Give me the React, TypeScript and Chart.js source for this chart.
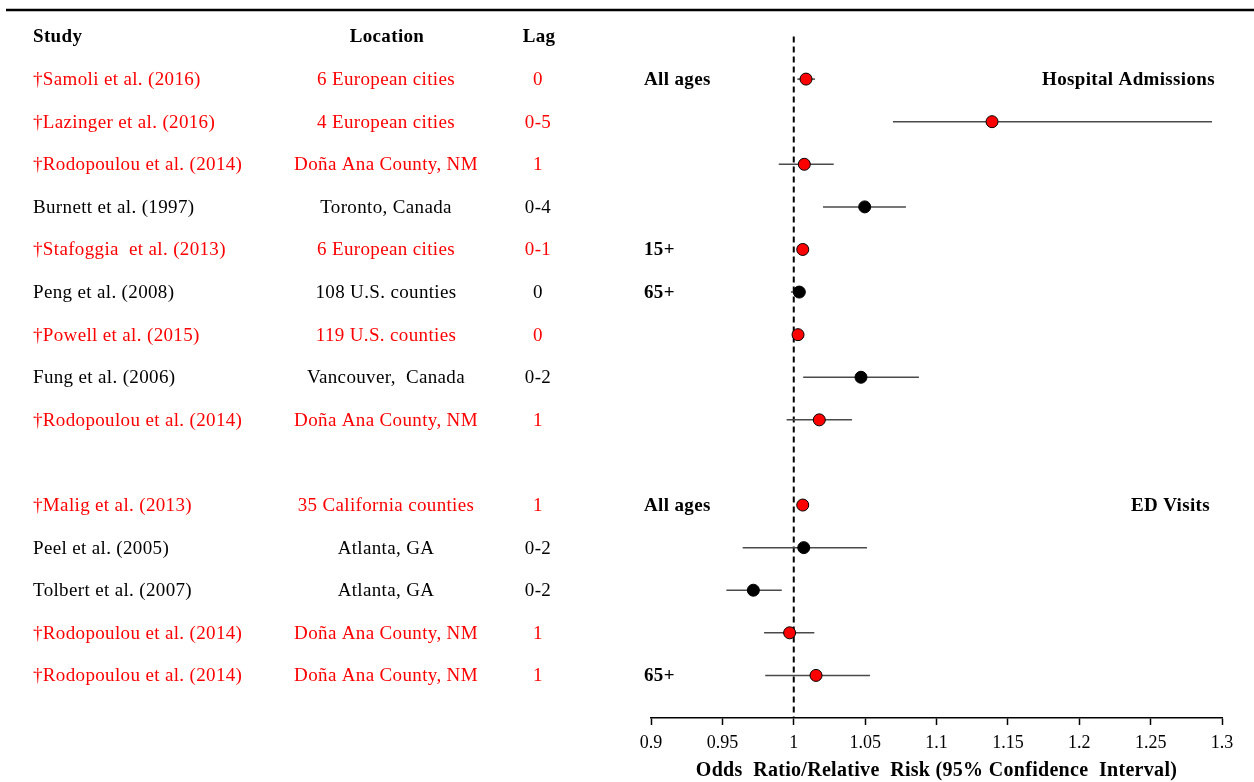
import React, { useEffect, useRef } from "react";
import { Chart, registerables } from "chart.js";

Chart.register(...registerables);

// ---- Data ----
const studies = [
  "†Samoli et al. (2016)",
  "†Lazinger et al. (2016)",
  "†Rodopoulou et al. (2014)",
  "Burnett et al. (1997)",
  "†Stafoggia  et al. (2013)",
  "Peng et al. (2008)",
  "†Powell et al. (2015)",
  "Fung et al. (2006)",
  "†Rodopoulou et al. (2014)",
  "†Malig et al. (2013)",
  "Peel et al. (2005)",
  "Tolbert et al. (2007)",
  "†Rodopoulou et al. (2014)",
  "†Rodopoulou et al. (2014)",
];
const locations = [
  "6 European cities",
  "4 European cities",
  "Doña Ana County, NM",
  "Toronto, Canada",
  "6 European cities",
  "108 U.S. counties",
  "119 U.S. counties",
  "Vancouver,  Canada",
  "Doña Ana County, NM",
  "35 California counties",
  "Atlanta, GA",
  "Atlanta, GA",
  "Doña Ana County, NM",
  "Doña Ana County, NM",
];
const lags = ["0", "0-5", "1", "0-4", "0-1", "0", "0", "0-2", "1", "1", "0-2", "0-2", "1", "1"];
const highlighted = [true, true, true, false, true, false, true, false, true, true, false, false, true, true];
const rowPositions = [1, 2, 3, 4, 5, 6, 7, 8, 9, 11, 12, 13, 14, 15];
const estimates = [1.0086, 1.1389, 1.0074, 1.0497, 1.0063, 1.0039, 1.003, 1.0471, 1.0179, 1.0063, 1.007, 0.9717, 0.9971, 1.0156];
const lowerCI = [1.0025, 1.0695, 0.9895, 1.0205, 1.003, 0.998, 1.001, 1.0066, 0.995, 1.003, 0.9642, 0.9528, 0.9792, 0.98];
const upperCI = [1.0149, 1.293, 1.028, 1.0786, 1.010, 1.008, 1.005, 1.0877, 1.0408, 1.0095, 1.0513, 0.9916, 1.0144, 1.0534];
const ageLabels = ["All ages", "15+", "65+", "All ages", "65+"];
const ageLabelRows = [1, 5, 6, 11, 15];
const sectionLabels = ["Hospital Admissions", "ED Visits"];
const sectionRows = [1, 11];
const sectionRight = [1215, 1210];
const headers = ["Study", "Location", "Lag"];
const xTicks = [0.9, 0.95, 1, 1.05, 1.1, 1.15, 1.2, 1.25, 1.3];
const xTickLabels = ["0.9", "0.95", "1", "1.05", "1.1", "1.15", "1.2", "1.25", "1.3"];
const xTitle = "Odds  Ratio/Relative  Risk (95% Confidence  Interval)";

const FONT = "'Liberation Serif', 'Times New Roman', serif";
const RED = "#ff0000";

const overlay = {
  id: "overlay",
  beforeDatasetsDraw(chart: any) {
    const ctx = chart.ctx;
    const xs = chart.scales.x;
    const ys = chart.scales.y;
    const area = chart.chartArea;
    ctx.save();
    // top rule
    ctx.strokeStyle = "#000";
    ctx.lineWidth = 2.5;
    ctx.beginPath();
    ctx.moveTo(6, 10);
    ctx.lineTo(chart.width, 10);
    ctx.stroke();
    // reference line at 1
    const x1 = xs.getPixelForValue(1);
    ctx.setLineDash([6, 4]);
    ctx.lineWidth = 2;
    ctx.beginPath();
    ctx.moveTo(x1, area.top);
    ctx.lineTo(x1, area.bottom);
    ctx.stroke();
    ctx.setLineDash([]);
    // confidence intervals
    ctx.strokeStyle = "#4a4a4a";
    ctx.lineWidth = 1.5;
    rowPositions.forEach((r, i) => {
      const y = ys.getPixelForValue(r);
      ctx.beginPath();
      ctx.moveTo(xs.getPixelForValue(lowerCI[i]), y);
      ctx.lineTo(xs.getPixelForValue(upperCI[i]), y);
      ctx.stroke();
    });
    // text
    ctx.letterSpacing = "0.35px";
    ctx.textBaseline = "middle";
    ctx.fillStyle = "#000";
    ctx.font = `bold 19px ${FONT}`;
    const hy = ys.getPixelForValue(0) + 1;
    ctx.textAlign = "left";
    ctx.fillText(headers[0], 33, hy);
    ctx.textAlign = "center";
    ctx.fillText(headers[1], 387, hy);
    ctx.fillText(headers[2], 539, hy);
    ctx.font = `19px ${FONT}`;
    rowPositions.forEach((r, i) => {
      const y = ys.getPixelForValue(r) + 1;
      ctx.fillStyle = highlighted[i] ? RED : "#000";
      ctx.textAlign = "left";
      ctx.fillText(studies[i], 33, y);
      ctx.textAlign = "center";
      ctx.fillText(locations[i], 386, y);
      ctx.fillText(lags[i], 538, y);
    });
    ctx.fillStyle = "#000";
    ctx.font = `bold 19px ${FONT}`;
    ctx.textAlign = "left";
    ageLabels.forEach((l, i) => ctx.fillText(l, 644, ys.getPixelForValue(ageLabelRows[i]) + 1));
    ctx.textAlign = "right";
    sectionLabels.forEach((l, i) => ctx.fillText(l, sectionRight[i], ys.getPixelForValue(sectionRows[i]) + 1));
    // axis title
    ctx.textAlign = "center";
    ctx.font = `bold 20px ${FONT}`;
    ctx.letterSpacing = "0.3px";
    ctx.fillText(xTitle, (area.left + area.right) / 2, chart.height - 11);
    ctx.restore();
  },
};

export default function App() {
  const ref = useRef<HTMLCanvasElement>(null);
  useEffect(() => {
    if (!ref.current) return;
    const chart = new Chart(ref.current, {
      type: "scatter",
      data: {
        datasets: [
          {
            data: rowPositions.map((r, i) => ({ x: estimates[i], y: r })),
            pointBackgroundColor: highlighted.map((h) => (h ? RED : "#000")),
            pointBorderColor: "#000",
            pointBorderWidth: 1,
            pointRadius: 6,
            pointHoverRadius: 6,
          },
        ],
      },
      options: {
        responsive: false,
        animation: false,
        events: [],
        layout: { padding: { left: 651, right: 32, top: 36.5, bottom: 0 } },
        plugins: { legend: { display: false }, tooltip: { enabled: false } },
        scales: {
          y: { type: "linear", min: 0, max: 16, reverse: true, display: false },
          x: {
            type: "linear",
            min: 0.9,
            max: 1.3,
            afterBuildTicks: (s: any) => {
              s.ticks = xTicks.map((v) => ({ value: v }));
            },
            afterFit: (s: any) => {
              s.height = 64;
            },
            grid: { drawOnChartArea: false, drawTicks: true, tickLength: 7, tickColor: "#000", tickWidth: 1.5 },
            border: { display: true, color: "#000", width: 1.5 },
            ticks: {
              color: "#000",
              font: { family: FONT, size: 18 },
              padding: 7,
              maxRotation: 0,
              autoSkip: false,
              callback: (v: any) => {
                const idx = xTicks.findIndex((t) => Math.abs(t - Number(v)) < 1e-6);
                return idx >= 0 ? xTickLabels[idx] : "";
              },
            },
            title: { display: false },
          },
        },
      },
      plugins: [overlay],
    });
    return () => chart.destroy();
  }, []);
  return (
    <div style={{ position: "fixed", left: 0, top: 0, width: 1254, height: 782, background: "#fff" }}>
      <canvas ref={ref} width={1254} height={782} />
    </div>
  );
}
